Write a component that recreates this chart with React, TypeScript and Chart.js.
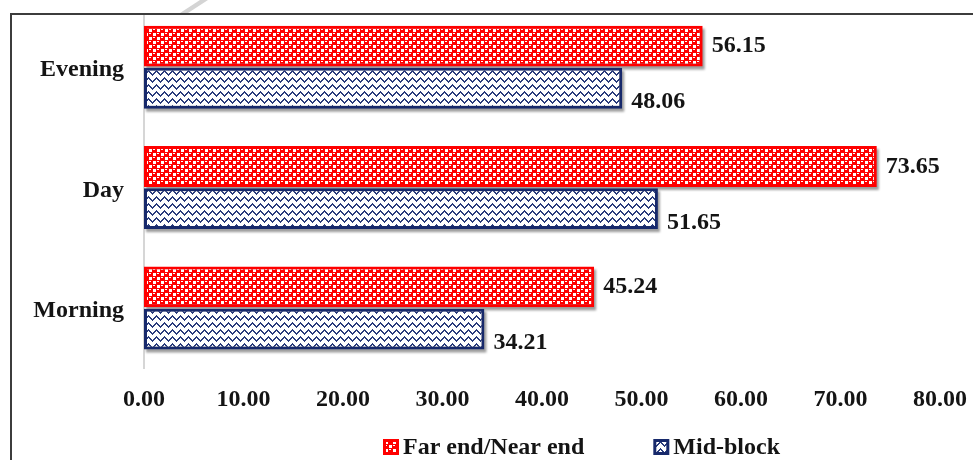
import { useEffect, useRef } from 'react';
import { Chart, registerables } from 'chart.js';

Chart.register(...registerables);

// Time-of-day periods (top to bottom) and the two crossing-location series
const periods = ['Evening', 'Day', 'Morning'];
const farNearEnd = [56.15, 73.65, 45.24];
const midBlock = [48.06, 51.65, 34.21];
const seriesNames = ['Far end/Near end', 'Mid-block'];
const axisMin = 0;
const axisMax = 80;
const axisStep = 10;

const FONT = '"Liberation Serif", "Times New Roman", serif';
const TEXT = '#141414';
const RED = '#ff0000';
const NAVY = '#17296b';

// label offsets per series (second series sits a little lower)
const LABEL_SHIFT = [0, 14];

function dotPattern(ctx: CanvasRenderingContext2D): CanvasPattern {
  const c = document.createElement('canvas');
  c.width = 8;
  c.height = 8;
  const g = c.getContext('2d')!;
  g.fillStyle = RED;
  g.fillRect(0, 0, 8, 8);
  g.fillStyle = '#ffffff';
  g.fillRect(1, 1, 3, 3);
  g.fillRect(5, 5, 3, 3);
  g.fillRect(5, 1, 2, 1);
  g.fillRect(1, 5, 2, 1);
  return ctx.createPattern(c, 'repeat')!;
}

function wavePattern(ctx: CanvasRenderingContext2D): CanvasPattern {
  const c = document.createElement('canvas');
  c.width = 8;
  c.height = 7;
  const g = c.getContext('2d')!;
  g.fillStyle = '#ffffff';
  g.fillRect(0, 0, 8, 7);
  g.fillStyle = '#2a3c7c';
  const ys = [4, 3, 2, 1, 0, 1, 2, 3];
  ys.forEach((y, x) => g.fillRect(x, y, 1, 2));
  return ctx.createPattern(c, 'repeat')!;
}

// soft drop shadow under every bar
const barShadow = {
  id: 'barShadow',
  beforeDatasetsDraw(chart: Chart) {
    const ctx = chart.ctx;
    ctx.save();
    ctx.fillStyle = 'rgba(0,0,0,0.38)';
    ctx.filter = 'blur(1.2px)';
    chart.data.datasets.forEach((_, di) => {
      chart.getDatasetMeta(di).data.forEach((bar: any) => {
        const { x, y, base, height } = bar.getProps(['x', 'y', 'base', 'height'], true);
        ctx.fillRect(Math.min(base, x) + 2, y - height / 2 + 3, Math.abs(x - base), height);
      });
    });
    ctx.restore();
  },
};

// value printed just past the end of each bar
const valueLabels = {
  id: 'valueLabels',
  afterDatasetsDraw(chart: Chart) {
    const ctx = chart.ctx;
    ctx.save();
    ctx.font = `bold 24px ${FONT}`;
    ctx.fillStyle = TEXT;
    ctx.textBaseline = 'middle';
    ctx.textAlign = 'left';
    chart.data.datasets.forEach((ds, di) => {
      chart.getDatasetMeta(di).data.forEach((bar: any, i: number) => {
        const { x, y } = bar.getProps(['x', 'y'], true);
        ctx.fillText((ds.data[i] as number).toFixed(2), x + 9, y + LABEL_SHIFT[di]);
      });
    });
    ctx.restore();
  },
};

// legend row under the axis
const LEGEND_X = 383;
const LEGEND_Y = 439;
const BOX = 16;
const legendRow = {
  id: 'legendRow',
  afterDraw(chart: Chart) {
    const ctx = chart.ctx;
    ctx.save();
    ctx.font = `bold 24px ${FONT}`;
    ctx.textBaseline = 'middle';
    ctx.textAlign = 'left';
    let x = LEGEND_X;
    chart.data.datasets.forEach((ds: any) => {
      ctx.fillStyle = ds.borderColor;
      ctx.fillRect(x, LEGEND_Y, BOX, BOX);
      ctx.fillStyle = ds.backgroundColor;
      ctx.fillRect(x + 3, LEGEND_Y + 3, BOX - 6, BOX - 6);
      ctx.fillStyle = TEXT;
      ctx.fillText(ds.label, x + BOX + 4, LEGEND_Y + BOX / 2 + 1);
      x += BOX + 4 + ctx.measureText(ds.label).width + 69;
    });
    ctx.restore();
  },
};

export default function App() {
  const canvasRef = useRef<HTMLCanvasElement | null>(null);

  useEffect(() => {
    const canvas = canvasRef.current;
    if (!canvas) return;
    const ctx = canvas.getContext('2d')!;
    const chart = new Chart(ctx, {
      type: 'bar',
      data: {
        labels: periods,
        datasets: [
          {
            label: seriesNames[0],
            data: farNearEnd,
            backgroundColor: dotPattern(ctx),
            borderColor: RED,
            borderWidth: 3,
            borderSkipped: false,
            categoryPercentage: 0.7,
            barPercentage: 0.97,
          },
          {
            label: seriesNames[1],
            data: midBlock,
            backgroundColor: wavePattern(ctx),
            borderColor: NAVY,
            borderWidth: 3,
            borderSkipped: false,
            categoryPercentage: 0.7,
            barPercentage: 0.97,
          },
        ],
      },
      options: {
        indexAxis: 'y',
        responsive: false,
        animation: false,
        devicePixelRatio: 1,
        layout: { padding: { top: 7, right: 33, bottom: 29, left: 0 } },
        plugins: {
          legend: { display: false },
          tooltip: { enabled: false },
        },
        scales: {
          x: {
            min: axisMin,
            max: axisMax,
            grid: { display: false, drawTicks: false },
            border: { display: false },
            afterFit: (scale: any) => {
              scale.paddingLeft = 0;
              scale.paddingRight = 0;
            },
            ticks: {
              stepSize: axisStep,
              padding: 17,
              color: TEXT,
              font: { family: FONT, size: 24, weight: 'bold' },
              callback: (v: any) => Number(v).toFixed(2),
            },
          },
          y: {
            grid: { display: false, drawTicks: false },
            border: { display: true, color: '#d6d6d6', width: 2 },
            afterFit: (scale: any) => {
              scale.width = 144;
              scale.paddingTop = 0;
              scale.paddingBottom = 0;
            },
            ticks: {
              padding: 20,
              labelOffset: 3,
              color: TEXT,
              font: { family: FONT, size: 24, weight: 'bold' },
            },
          },
        },
      },
      plugins: [barShadow, valueLabels, legendRow],
    });
    return () => chart.destroy();
  }, []);

  return (
    <div style={{ position: 'fixed', left: 0, top: 0, width: 973, height: 460, background: '#fff', overflow: 'hidden' }}>
      <div
        style={{
          position: 'absolute',
          left: 180,
          top: 0,
          width: 28,
          height: 13,
          background: '#d4d4d4',
          clipPath: 'polygon(20px 0, 28px 0, 8px 13px, 0 13px)',
        }}
      />
      <div
        style={{
          position: 'absolute',
          left: 10,
          top: 13,
          width: 1000,
          height: 500,
          borderTop: '2px solid #3c3c3c',
          borderLeft: '2px solid #3c3c3c',
          overflow: 'hidden',
        }}
      >
        <canvas
          ref={canvasRef}
          width={973}
          height={460}
          style={{ position: 'absolute', left: -12, top: -15, width: 973, height: 460 }}
        />
      </div>
    </div>
  );
}
